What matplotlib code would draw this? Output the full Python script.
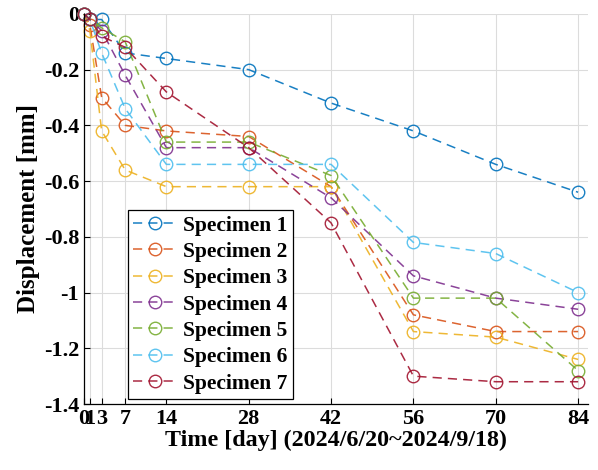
import numpy as np
import matplotlib
matplotlib.use("Agg")
import matplotlib.pyplot as plt

plt.rcParams['font.family'] = ['Liberation Serif', 'DejaVu Serif']
plt.rcParams['font.weight'] = 'bold'

days = [0, 1, 3, 7, 14, 28, 42, 56, 70, 84]
s1 = [0, -0.02, -0.02, -0.14, -0.16, -0.20, -0.32, -0.42, -0.54, -0.64]
s2 = [0, -0.04, -0.30, -0.40, -0.42, -0.44, -0.62, -1.08, -1.14, -1.14]
s3 = [0, -0.06, -0.42, -0.56, -0.62, -0.62, -0.62, -1.14, -1.16, -1.24]
s4 = [0, -0.02, -0.06, -0.22, -0.48, -0.48, -0.66, -0.94, -1.02, -1.06]
s5 = [0, -0.02, -0.05, -0.10, -0.46, -0.46, -0.58, -1.02, -1.02, -1.28]
s6 = [0, -0.02, -0.14, -0.34, -0.54, -0.54, -0.54, -0.82, -0.86, -1.00]
s7 = [0, -0.02, -0.08, -0.12, -0.28, -0.48, -0.75, -1.30, -1.32, -1.32]
series = [s1, s2, s3, s4, s5, s6, s7]
names = ["Specimen %d" % (i + 1) for i in range(7)]
ytick_labels = ["-1.4", "-1.2", "-1", "-0.8", "-0.6", "-0.4", "-0.2", "0"]

# matlab default order
colors = [(0, 0.447, 0.741), (0.85, 0.325, 0.098), (0.929, 0.694, 0.125),
          (0.494, 0.184, 0.556), (0.466, 0.674, 0.188), (0.301, 0.745, 0.933),
          (0.635, 0.078, 0.184)]

fig = plt.figure(figsize=(5.98, 4.70), dpi=100)
ax = fig.add_axes([0.1405, 0.1404, 0.843, 0.830])

for y, c, lab in zip(series, colors, names):
    ax.plot(days, y, '--o', color=c, lw=1.1, dashes=(6, 4), ms=9,
            mfc='none', mew=1.0, label=lab, clip_on=False, alpha=0.9)

ax.set_xlim(0, 85.7)
ax.set_ylim(-1.4, 0)
ax.set_xticks(days)
ax.set_yticks(np.arange(-1.4, 0.01, 0.2))
ax.set_yticklabels(ytick_labels)
ax.tick_params(direction='in', labelsize=16, length=4, width=0.8)
ax.grid(True, color='#dcdcdc', lw=0.8)
ax.spines['top'].set_visible(False)
ax.spines['right'].set_visible(False)
ax.spines['left'].set_linewidth(0.9)
ax.spines['bottom'].set_linewidth(0.9)

ax.set_xlabel("Time [day] (2024/6/20~2024/9/18)", fontsize=17.3, fontweight='bold', labelpad=1)
ax.set_ylabel("Displacement [mm]", fontsize=18, fontweight='bold', labelpad=3)

leg = ax.legend(loc='lower left', bbox_to_anchor=(0.087, 0.013), fontsize=15.5,
                frameon=True, fancybox=False, handlelength=2.0, handletextpad=0.3,
                labelspacing=0.29, borderpad=0.25, borderaxespad=0)
leg.get_frame().set_edgecolor('black')
leg.get_frame().set_linewidth(0.9)
leg.get_frame().set_alpha(1)

fig.savefig("out.png", dpi=100)
